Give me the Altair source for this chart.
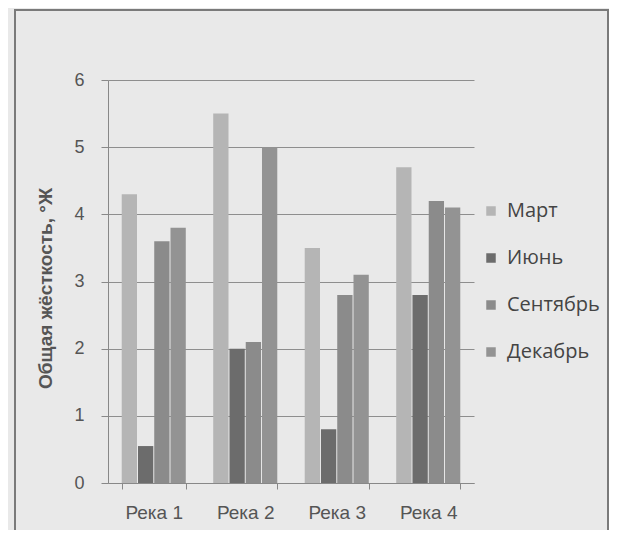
import altair as alt
import pandas as pd

rivers = ["Река 1", "Река 2", "Река 3", "Река 4"]
months = ["Март", "Июнь", "Сентябрь", "Декабрь"]
march = [4.3, 5.5, 3.5, 4.7]
june = [0.55, 2.0, 0.8, 2.8]
september = [3.6, 2.1, 2.8, 4.2]
december = [3.8, 5.0, 3.1, 4.1]
colors = ["#b5b5b5", "#6c6c6c", "#8b8b8b", "#939393"]
y_ticks = [0, 1, 2, 3, 4, 5, 6]

rows = []
for m, vals in zip(months, [march, june, september, december]):
    for r, v in zip(rivers, vals):
        rows.append({"river": r, "month": m, "value": v})
df = pd.DataFrame(rows)

W, H = 366, 403

frame = alt.Chart(pd.DataFrame({"a": [0]})).mark_rect(
    fill=None, stroke="#7a7a7a", strokeWidth=2, clip=False
).encode(
    x=alt.value(-93), x2=alt.value(500), y=alt.value(-70), y2=alt.value(460)
)

bars = alt.Chart(df).mark_bar(stroke=None).encode(
    x=alt.X("river:N", sort=rivers, title=None,
            scale=alt.Scale(paddingInner=0.3, paddingOuter=0.15),
            axis=alt.Axis(labelAngle=0, tickBand="extent", grid=False)),
    xOffset=alt.XOffset("month:N", sort=months,
                        scale=alt.Scale(paddingInner=0.06, paddingOuter=0)),
    y=alt.Y("value:Q", scale=alt.Scale(domain=[0, 6]),
            title="Общая жёсткость, °Ж",
            axis=alt.Axis(values=y_ticks, labelOverlap=False, grid=True)),
    color=alt.Color("month:N", sort=months,
                    scale=alt.Scale(domain=months, range=colors),
                    legend=alt.Legend(title=None, orient="none",
                                      legendX=373, legendY=121,
                                      symbolType="square", symbolSize=90,
                                      symbolStrokeWidth=0,
                                      labelFontSize=20, labelColor="#444444",
                                      labelFont="Open Sans", rowPadding=27,
                                      labelOffset=6)),
)

chart = alt.layer(frame, bars).properties(
    width=W, height=H,
    autosize=alt.AutoSizeParams(type="none"),
    padding={"left": 100, "top": 72, "right": 135, "bottom": 47},
    background="#e9e9e9",
).configure_view(stroke=None).configure_axisX(
    labelFontSize=19, labelColor="#555555", labelFont="Liberation Sans",
    labelPadding=14, tickSize=6, tickColor="#888888", domainColor="#888888",
).configure_axisY(
    labelFontSize=18, labelColor="#555555", labelFont="Liberation Sans",
    labelPadding=17, tickSize=7, tickColor="#888888",
    domainColor="#888888", gridColor="#8e8e8e",
    titleFont="Liberation Sans", titleFontSize=19, titleColor="#555555",
    titleFontWeight="bold", titleX=-53, titleY=208,
)

chart.save("out.html", embed_options={"renderer": "svg", "actions": False})
